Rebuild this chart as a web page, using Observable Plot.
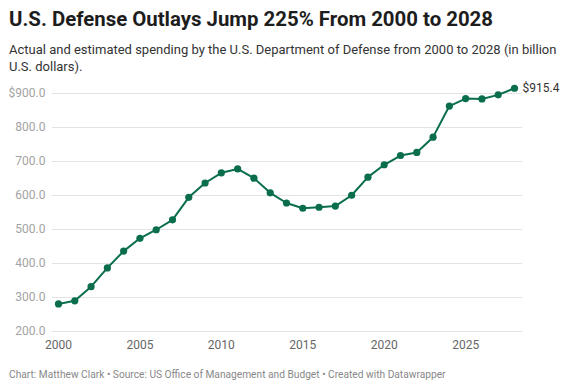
<!DOCTYPE html>
<html>
<head>
<meta charset="utf-8">
<script src="https://cdn.jsdelivr.net/npm/d3@7"></script>
<script src="https://cdn.jsdelivr.net/npm/@observablehq/plot@0.6"></script>
<style>
  html, body { margin: 0; padding: 0; background: #fff; }
  body { width: 575px; height: 390px; position: relative; overflow: hidden; font-family: Roboto, "Noto Sans", sans-serif; }
  #title { position: absolute; left: 9px; top: 7px; font-size: 20.4px; font-weight: 700; color: #1d1d1d; white-space: nowrap; }
  #subtitle { position: absolute; left: 9px; top: 42px; width: 560px; font-size: 13px; line-height: 16.5px; color: #333; }
  #chart { position: absolute; left: 0; top: 80px; }
  #footer { position: absolute; left: 9px; top: 369px; font-size: 10.2px; color: #888; white-space: nowrap; }
</style>
</head>
<body>
<div id="title">U.S. Defense Outlays Jump 225% From 2000 to 2028</div>
<div id="subtitle">Actual and estimated spending by the U.S. Department of Defense from 2000 to 2028 (in billion U.S. dollars).</div>
<div id="chart"></div>
<div id="footer">Chart: Matthew Clark • Source: US Office of Management and Budget • Created with Datawrapper</div>
<script>
const years = [2000,2001,2002,2003,2004,2005,2006,2007,2008,2009,2010,2011,2012,2013,2014,2015,2016,2017,2018,2019,2020,2021,2022,2023,2024,2025,2026,2027,2028];
const outlays = [281.0,290.2,331.8,387.1,436.4,474.1,499.3,528.5,594.6,636.7,666.7,678.1,650.9,607.8,577.9,562.5,565.4,568.9,600.7,654.0,690.4,717.6,726.6,771.6,863.0,885.0,884.0,896.0,915.4];
const yTicks = [200,300,400,500,600,700,800,900];
const xTicks = [2000,2005,2010,2015,2020,2025];

const data = years.map((y, i) => ({year: y, value: outlays[i]}));
const last = data[data.length - 1];
const green = "#0a6e4d";
const yFmt = d => (d === 900 ? "$" : "") + d.toFixed(1);

const plot = Plot.plot({
  width: 575,
  height: 281,
  marginLeft: 52,
  marginRight: 53,
  marginTop: 13,
  marginBottom: 30,
  insetLeft: 6,
  insetRight: 8,
  style: { fontFamily: "Roboto, 'Noto Sans', sans-serif", background: "transparent" },
  x: { domain: [2000, 2028], ticks: xTicks, tickFormat: d => String(d), tickSize: 0, tickPadding: 9, label: null },
  y: { domain: [200, 900], ticks: yTicks, tickFormat: yFmt, tickSize: 0, tickPadding: 7, label: null },
  marks: [
    Plot.gridY(yTicks, { stroke: "#e3e3e3", strokeOpacity: 1, strokeWidth: 1 }),
    Plot.axisY({ ticks: yTicks, tickFormat: yFmt, tickSize: 0, tickPadding: 7, fontSize: 12, fill: "#a3a3a3", label: null }),
    Plot.axisX({ ticks: xTicks, tickFormat: d => String(d), tickSize: 0, tickPadding: 9, fontSize: 12, fill: "#666", label: null }),
    Plot.line(data, { x: "year", y: "value", stroke: green, strokeWidth: 2, curve: "linear" }),
    Plot.dot(data, { x: "year", y: "value", fill: green, r: 3.6, stroke: "none" }),
    Plot.text([last], { x: "year", y: "value", text: d => "$" + d.value.toFixed(1), dx: 8, textAnchor: "start", fontSize: 12, fill: "#333" })
  ]
});
document.getElementById("chart").appendChild(plot);
</script>
</body>
</html>
